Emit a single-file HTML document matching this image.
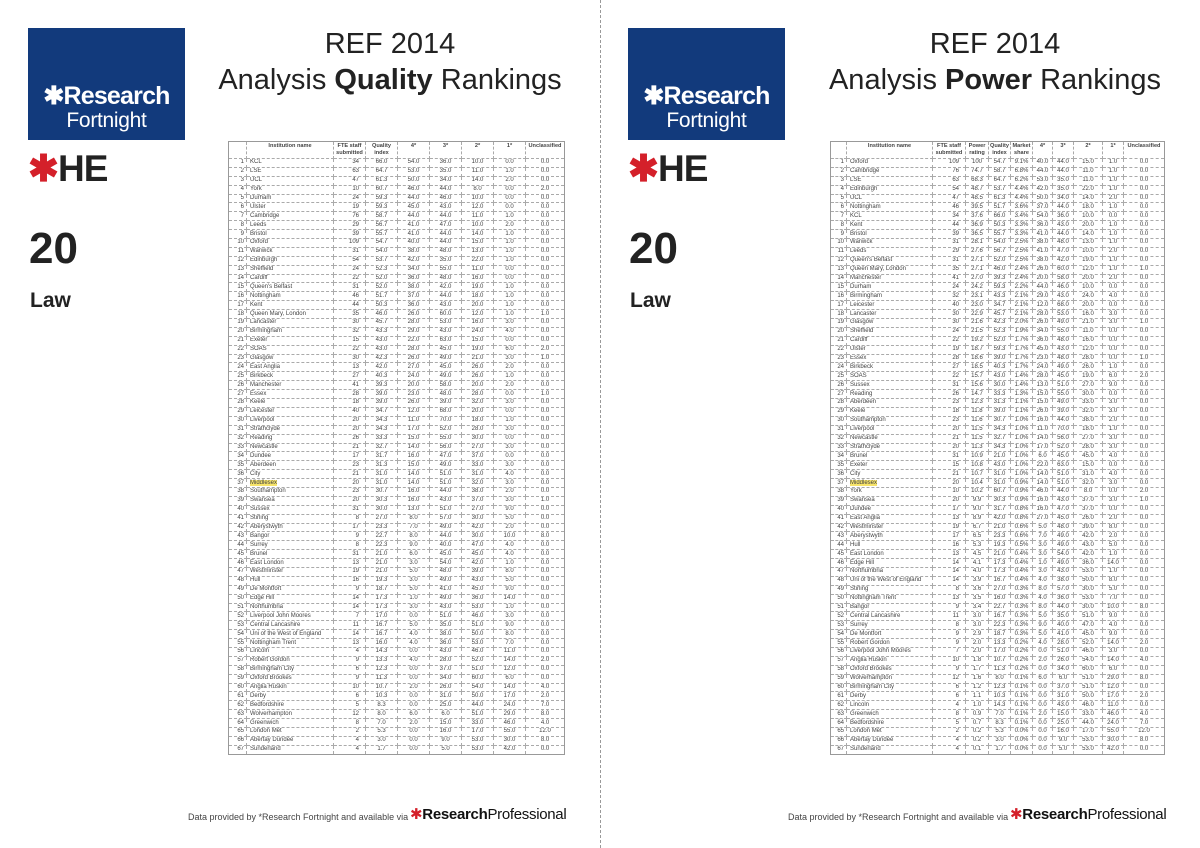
<!DOCTYPE html>
<html><head><meta charset="utf-8">
<style>
*{margin:0;padding:0;box-sizing:border-box}
body{width:1200px;height:848px;background:#fff;position:relative;overflow:hidden;font-family:"Liberation Sans",sans-serif;color:#222}
.abs{position:absolute}
.divider{left:600px;top:0;height:848px;border-left:1px dashed #999}
.logo{width:157px;height:112px;background:#123a7c;color:#fff;text-align:center}
.logo .r{position:absolute;left:0;width:157px;top:53px;font-size:25px;font-weight:bold;letter-spacing:-0.8px}
.logo .f{position:absolute;left:0;width:157px;top:81px;font-size:21px;letter-spacing:-0.3px}
.he{font-size:37px;font-weight:bold;letter-spacing:-1px}
.he span{color:#d4202a}
.num{font-size:44px;font-weight:bold}
.subj{font-size:21px;font-weight:bold}
.title{text-align:center;font-size:29px;line-height:36px;color:#222}
table{position:absolute;border-collapse:collapse;table-layout:fixed;font-size:6px;color:#444;border:1px solid #999}
td,th{border:1px dashed #aaa;height:8.9px;line-height:7px;padding:0 1px;white-space:nowrap;overflow:hidden;text-align:center}
th{font-weight:bold;font-size:5.6px;line-height:7px;height:17px;vertical-align:top;padding-top:1px;white-space:normal}
td.n{text-align:left;padding-left:3px}
td.i{text-align:right;padding-right:2px}
td.f{text-align:right;padding-right:6px}
tr.hl td.n span{background:#f7e46a}
.foot{font-size:9px;color:#444}
.rp{font-size:15px;color:#111;letter-spacing:-0.3px}
.rp span.a{color:#d4202a}
</style></head><body>
<div class="abs divider"></div>

<div class="abs logo" style="left:28px;top:28px"><div class="r">✱Research</div><div class="f">Fortnight</div></div>
<div class="abs he" style="left:28px;top:147px"><span>✱</span>HE</div>
<div class="abs num" style="left:29px;top:224px">20</div>
<div class="abs subj" style="left:30px;top:289px">Law</div>
<div class="abs title" style="left:190px;width:400px;top:26px">REF 2014<br>Analysis <b>Quality</b> Rankings</div>

<div class="abs logo" style="left:628px;top:28px"><div class="r">✱Research</div><div class="f">Fortnight</div></div>
<div class="abs he" style="left:628px;top:147px"><span>✱</span>HE</div>
<div class="abs num" style="left:629px;top:224px">20</div>
<div class="abs subj" style="left:630px;top:289px">Law</div>
<div class="abs title" style="left:795px;width:400px;top:26px">REF 2014<br>Analysis <b>Power</b> Rankings</div>

<table id="tq" style="left:228px;top:141px;width:336px">
<colgroup><col style="width:18px"><col style="width:87px"><col style="width:32px"><col style="width:32px"><col style="width:32px"><col style="width:32px"><col style="width:32px"><col style="width:32px"><col style="width:39px"></colgroup>
<thead><tr><th></th><th>Institution name</th><th>FTE staff submitted</th><th>Quality index</th><th>4*</th><th>3*</th><th>2*</th><th>1*</th><th>Unclassified</th></tr></thead><tbody></tbody></table>

<table id="tp" style="left:830px;top:141px;width:334px">
<colgroup><col style="width:16px"><col style="width:86px"><col style="width:33px"><col style="width:23px"><col style="width:22px"><col style="width:22px"><col style="width:20px"><col style="width:21px"><col style="width:29px"><col style="width:21px"><col style="width:41px"></colgroup>
<thead><tr><th></th><th>Institution name</th><th>FTE staff submitted</th><th>Power rating</th><th>Quality index</th><th>Market share</th><th>4*</th><th>3*</th><th>2*</th><th>1*</th><th>Unclassified</th></tr></thead><tbody></tbody></table>

<div class="abs foot" style="left:188px;top:812px">Data provided by *Research Fortnight and available via</div>
<div class="abs rp" style="left:410px;top:805px"><span class="a">✱</span><b>Research</b>Professional</div>
<div class="abs foot" style="left:788px;top:812px">Data provided by *Research Fortnight and available via</div>
<div class="abs rp" style="left:1010px;top:805px"><span class="a">✱</span><b>Research</b>Professional</div>

<script>
const qualityRows = [
"KCL|34|66.0|54.0|36.0|10.0|0.0|0.0","LSE|63|64.7|53.0|35.0|11.0|1.0|0.0","UCL|47|61.3|50.0|34.0|14.0|2.0|0.0","York|10|60.7|46.0|44.0|8.0|0.0|2.0",
"Durham|24|59.3|44.0|46.0|10.0|0.0|0.0","Ulster|19|59.3|45.0|43.0|12.0|0.0|0.0","Cambridge|76|58.7|44.0|44.0|11.0|1.0|0.0","Leeds|29|56.7|41.0|47.0|10.0|2.0|0.0",
"Bristol|39|55.7|41.0|44.0|14.0|1.0|0.0","Oxford|109|54.7|40.0|44.0|15.0|1.0|0.0","Warwick|31|54.0|38.0|48.0|13.0|1.0|0.0","Edinburgh|54|53.7|42.0|35.0|22.0|1.0|0.0",
"Sheffield|24|52.3|34.0|55.0|11.0|0.0|0.0","Cardiff|22|52.0|36.0|48.0|16.0|0.0|0.0","Queen's Belfast|31|52.0|38.0|42.0|19.0|1.0|0.0","Nottingham|46|51.7|37.0|44.0|18.0|1.0|0.0",
"Kent|44|50.3|36.0|43.0|20.0|1.0|0.0","Queen Mary, London|35|46.0|26.0|60.0|12.0|1.0|1.0","Lancaster|30|45.7|28.0|53.0|16.0|3.0|0.0","Birmingham|32|43.3|29.0|43.0|24.0|4.0|0.0",
"Exeter|15|43.0|22.0|63.0|15.0|0.0|0.0","SOAS|22|43.0|28.0|45.0|19.0|6.0|2.0","Glasgow|30|42.3|26.0|49.0|21.0|3.0|1.0","East Anglia|13|42.0|27.0|45.0|26.0|2.0|0.0",
"Birkbeck|27|40.3|24.0|49.0|26.0|1.0|0.0","Manchester|41|39.3|20.0|58.0|20.0|2.0|0.0","Essex|28|39.0|23.0|48.0|28.0|0.0|1.0","Keele|18|39.0|26.0|39.0|32.0|3.0|0.0",
"Leicester|40|34.7|12.0|68.0|20.0|0.0|0.0","Liverpool|20|34.3|11.0|70.0|18.0|1.0|0.0","Strathclyde|20|34.3|17.0|52.0|28.0|3.0|0.0","Reading|26|33.3|15.0|55.0|30.0|0.0|0.0",
"Newcastle|21|32.7|14.0|56.0|27.0|3.0|0.0","Dundee|17|31.7|16.0|47.0|37.0|0.0|0.0","Aberdeen|23|31.3|15.0|49.0|33.0|3.0|0.0","City|21|31.0|14.0|51.0|31.0|4.0|0.0",
"Middlesex|20|31.0|14.0|51.0|32.0|3.0|0.0","Southampton|23|30.7|16.0|44.0|38.0|2.0|0.0","Swansea|20|30.3|16.0|43.0|37.0|3.0|1.0","Sussex|31|30.0|13.0|51.0|27.0|9.0|0.0",
"Stirling|8|27.0|8.0|57.0|30.0|5.0|0.0","Aberystwyth|17|23.3|7.0|49.0|42.0|2.0|0.0","Bangor|9|22.7|8.0|44.0|30.0|10.0|8.0","Surrey|8|22.3|9.0|40.0|47.0|4.0|0.0",
"Brunel|31|21.0|6.0|45.0|45.0|4.0|0.0","East London|13|21.0|3.0|54.0|42.0|1.0|0.0","Westminster|19|21.0|5.0|48.0|39.0|8.0|0.0","Hull|16|19.3|3.0|49.0|43.0|5.0|0.0",
"De Montfort|9|18.7|5.0|41.0|45.0|9.0|0.0","Edge Hill|14|17.3|1.0|49.0|36.0|14.0|0.0","Northumbria|14|17.3|3.0|43.0|53.0|1.0|0.0","Liverpool John Moores|7|17.0|0.0|51.0|46.0|3.0|0.0",
"Central Lancashire|11|16.7|5.0|35.0|51.0|9.0|0.0","Uni of the West of England|14|16.7|4.0|38.0|50.0|8.0|0.0","Nottingham Trent|13|16.0|4.0|36.0|53.0|7.0|0.0","Lincoln|4|14.3|0.0|43.0|46.0|11.0|0.0",
"Robert Gordon|9|13.3|4.0|28.0|52.0|14.0|2.0","Birmingham City|6|12.3|0.0|37.0|51.0|12.0|0.0","Oxford Brookes|9|11.3|0.0|34.0|60.0|6.0|0.0","Anglia Ruskin|10|10.7|2.0|26.0|54.0|14.0|4.0",
"Derby|6|10.3|0.0|31.0|50.0|17.0|2.0","Bedfordshire|5|8.3|0.0|25.0|44.0|24.0|7.0","Wolverhampton|12|8.0|6.0|6.0|51.0|29.0|8.0","Greenwich|8|7.0|2.0|15.0|33.0|46.0|4.0",
"London Met|2|5.3|0.0|16.0|17.0|55.0|12.0","Abertay Dundee|4|3.0|0.0|9.0|53.0|30.0|8.0","Sunderland|4|1.7|0.0|5.0|53.0|42.0|0.0"];
const powerRows = [
"Oxford|100|9.1","Cambridge|74.7|6.8","LSE|68.3|6.2","Edinburgh|48.7|4.4","UCL|48.5|4.4","Nottingham|39.5|3.6","KCL|37.6|3.4","Kent|36.9|3.3","Bristol|36.5|3.3",
"Warwick|28.1|2.5","Leeds|27.6|2.5","Queen's Belfast|27.1|2.5","Queen Mary, London|27.1|2.4","Manchester|27.0|2.4","Durham|24.2|2.2","Birmingham|23.1|2.1",
"Leicester|23.0|2.1","Lancaster|22.9|2.1","Glasgow|21.6|2.0","Sheffield|21.5|1.9","Cardiff|19.2|1.7","Ulster|18.7|1.7","Essex|18.6|1.7","Birkbeck|18.5|1.7",
"SOAS|15.7|1.4","Sussex|15.6|1.4","Reading|14.7|1.3","Aberdeen|12.3|1.1","Keele|11.8|1.1","Southampton|11.6|1.0","Liverpool|11.5|1.0","Newcastle|11.5|1.0",
"Strathclyde|11.3|1.0","Brunel|10.9|1.0","Exeter|10.8|1.0","City|10.7|1.0","Middlesex|10.4|0.9","York|10.2|0.9","Swansea|9.9|0.9","Dundee|9.0|0.8",
"East Anglia|8.9|0.8","Westminster|6.7|0.6","Aberystwyth|6.5|0.6","Hull|5.3|0.5","East London|4.5|0.4","Edge Hill|4.1|0.4","Northumbria|4.0|0.4",
"Uni of the West of England|3.9|0.4","Stirling|3.6|0.3","Nottingham Trent|3.5|0.3","Bangor|3.4|0.3","Central Lancashire|3.0|0.3","Surrey|3.0|0.3","De Montfort|2.9|0.3",
"Robert Gordon|2.0|0.2","Liverpool John Moores|2.0|0.2","Anglia Ruskin|1.8|0.2","Oxford Brookes|1.7|0.2","Wolverhampton|1.6|0.1","Birmingham City|1.2|0.1",
"Derby|1.1|0.1","Lincoln|1.0|0.1","Greenwich|0.9|0.1","Bedfordshire|0.7|0.1","London Met|0.2|0.0","Abertay Dundee|0.2|0.0","Sunderland|0.1|0.0"];

const byName = {};
qualityRows.forEach(r => { const p = r.split('|'); byName[p[0]] = p; });

function addRow(tbody, rank, cells, name) {
  const tr = document.createElement('tr');
  
  
  if (name === 'Middlesex') tr.className = 'hl';
  const td0 = document.createElement('td'); td0.className = 'i'; td0.textContent = rank; tr.appendChild(td0);
  const td1 = document.createElement('td'); td1.className = 'n';
  const sp = document.createElement('span'); sp.textContent = name; td1.appendChild(sp); tr.appendChild(td1);
  cells.forEach((c, k) => {
    const td = document.createElement('td');
    if (k === 0) td.className = 'f';
    td.textContent = c; tr.appendChild(td);
  });
  tbody.appendChild(tr);
}
const tq = document.querySelector('#tq tbody');
qualityRows.forEach((r, i) => { const p = r.split('|'); addRow(tq, i + 1, p.slice(1), p[0]); });
const tp = document.querySelector('#tp tbody');
powerRows.forEach((r, i) => {
  const p = r.split('|'); const q = byName[p[0]];
  addRow(tp, i + 1, [q[1], p[1], q[2], p[2] + '%', q[3], q[4], q[5], q[6], q[7]], p[0]);
});
</script>
</body></html>
